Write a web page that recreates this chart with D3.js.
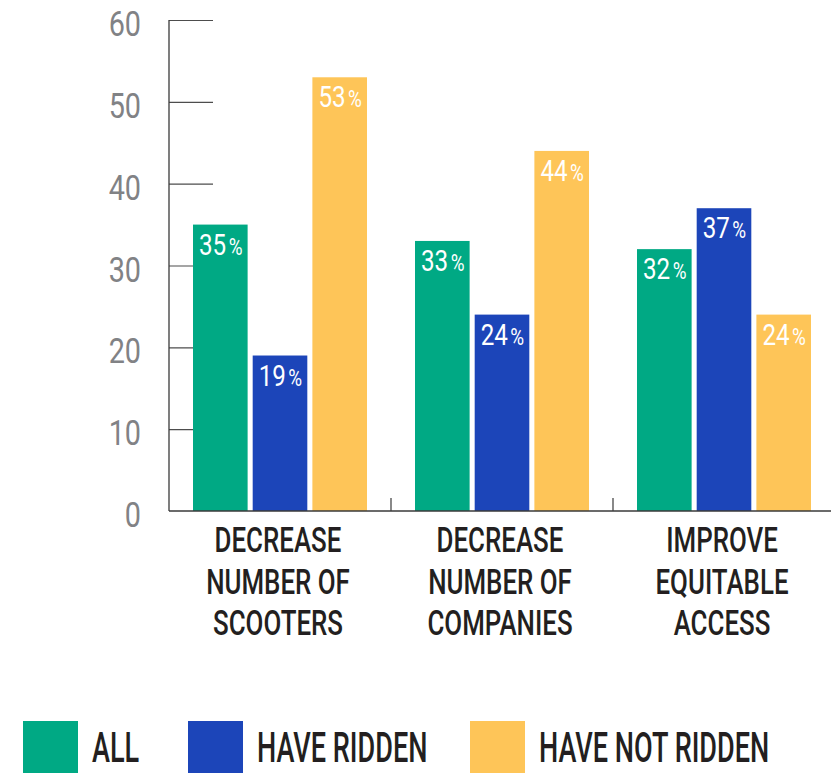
<!DOCTYPE html>
<html>
<head>
<meta charset="utf-8">
<script src="https://cdn.jsdelivr.net/npm/d3@7"></script>
<style>
  html, body { margin: 0; padding: 0; background: #fff; }
  svg { display: block; font-family: Roboto, "Noto Sans", sans-serif; }
</style>
</head>
<body>
<svg id="chart" width="831" height="773"></svg>
<script>
// ---- data ----
const categories = [
  ["DECREASE", "NUMBER OF", "SCOOTERS"],
  ["DECREASE", "NUMBER OF", "COMPANIES"],
  ["IMPROVE", "EQUITABLE", "ACCESS"]
];
const seriesNames = ["ALL", "HAVE RIDDEN", "HAVE NOT RIDDEN"];
const allValues = [35, 33, 32];
const riddenValues = [19, 24, 37];
const notRiddenValues = [53, 44, 24];
const yTicks = [0, 10, 20, 30, 40, 50, 60];
const colors = ["#00a984", "#1c45b9", "#fec558"];

const seriesValues = [allValues, riddenValues, notRiddenValues];

const svg = d3.select("#chart");
const catKeys = categories.map((c, i) => "c" + i);

const x0 = d3.scaleBand().domain(catKeys).range([169, 835]).padding(0);
const x1 = d3.scaleBand().domain(seriesNames).range([24, 198]).paddingInner(0.085);
const y = d3.scaleLinear().domain([0, 60]).range([511, 20]);

// y tick lines (drawn under bars)
const yAxis = d3.axisRight(y).tickValues(yTicks.filter(d => d > 0)).tickSize(44).tickFormat("");
const ya = svg.append("g").attr("transform", "translate(169,0)").call(yAxis);
ya.select(".domain").remove();
ya.selectAll(".tick line").attr("stroke", "#4d4d4d").attr("stroke-width", 1.2);

// y tick labels
const tickG = svg.append("g");
yTicks.forEach(t => {
  tickG.append("text")
    .attr("transform", `translate(141,${y(t) + 16}) scale(0.8,1)`)
    .attr("text-anchor", "end")
    .attr("font-size", 36)
    .attr("fill", "#818285")
    .text(t);
});

// bars
const groups = svg.append("g").selectAll("g")
  .data(catKeys).join("g")
  .attr("transform", d => `translate(${x0(d)},0)`);

groups.each(function(k, ci) {
  const g = d3.select(this);
  seriesNames.forEach((s, si) => {
    const v = seriesValues[si][ci];
    g.append("rect")
      .attr("x", x1(s))
      .attr("y", y(v))
      .attr("width", x1.bandwidth())
      .attr("height", y(0) - y(v))
      .attr("fill", colors[si]);
    const t = g.append("text")
      .attr("transform", `translate(${x1(s) + 6},${y(v) + 30}) scale(0.82,1)`)
      .attr("fill", "#fff")
      .attr("font-size", 29.5);
    t.append("tspan").text(v);
    t.append("tspan").attr("font-size", 23).attr("dx", 3).text("%");
  });
});

// x baseline and axis
svg.append("line").attr("x1", 169).attr("x2", 831).attr("y1", 511).attr("y2", 511)
  .attr("stroke", "#3a3a3a").attr("stroke-width", 1.3);
svg.append("line").attr("x1", 169).attr("x2", 169).attr("y1", 20).attr("y2", 511)
  .attr("stroke", "#3a3a3a").attr("stroke-width", 1.3);
catKeys.slice(1).forEach(k => {
  svg.append("line").attr("x1", x0(k)).attr("x2", x0(k)).attr("y1", 498).attr("y2", 511)
    .attr("stroke", "#3a3a3a").attr("stroke-width", 1.2);
});

// category labels
catKeys.forEach((k, ci) => {
  const cx = x0(k) + x0.bandwidth() / 2 - 2;
  categories[ci].forEach((line, li) => {
    svg.append("text")
      .attr("transform", `translate(${cx},${552 + li * 41.5}) scale(0.74,1)`)
      .attr("text-anchor", "middle")
      .attr("font-size", 35)
      .attr("font-weight", 500)
      .attr("fill", "#231f20")
      .text(line);
  });
});

// legend
const legendX = [23, 188, 470];
seriesNames.forEach((s, i) => {
  svg.append("rect").attr("x", legendX[i]).attr("y", 721).attr("width", 55).attr("height", 56)
    .attr("fill", colors[i]);
  svg.append("text")
    .attr("transform", `translate(${legendX[i] + 69},762) scale(0.63,1)`)
    .attr("font-size", 43)
    .attr("font-weight", 500)
    .attr("fill", "#231f20")
    .text(s);
});
</script>
</body>
</html>
